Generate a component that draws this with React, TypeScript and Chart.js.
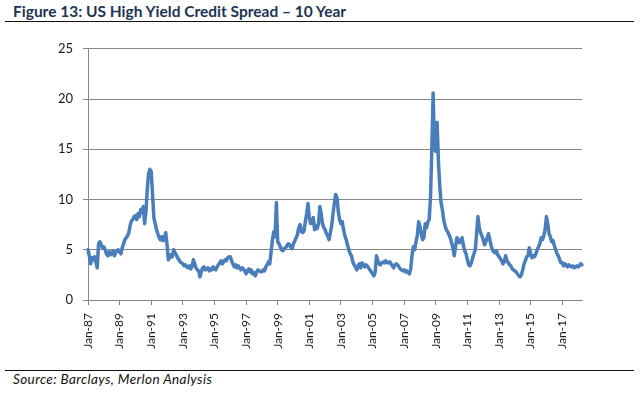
import React, { useEffect, useRef } from 'react';
import { Chart, registerables } from 'chart.js';

Chart.register(...registerables);

const TITLE = 'Figure 13: US High Yield Credit Spread – 10 Year';
const SOURCE = 'Source: Barclays, Merlon Analysis';

const monthNames = ['Jan', 'Feb', 'Mar', 'Apr', 'May', 'Jun', 'Jul', 'Aug', 'Sep', 'Oct', 'Nov', 'Dec'];
const years = [
  1987, 1988, 1989, 1990, 1991, 1992, 1993, 1994, 1995, 1996, 1997, 1998, 1999, 2000, 2001, 2002,
  2003, 2004, 2005, 2006, 2007, 2008, 2009, 2010, 2011, 2012, 2013, 2014, 2015, 2016, 2017, 2018,
];

// Monthly spread (%)
const s1987 = [5.0, 4.4, 3.6, 4.2, 4.0, 4.3, 3.8, 3.2, 5.6, 5.8, 5.5, 5.2];
const s1988 = [5.3, 5.0, 4.6, 4.4, 4.8, 4.5, 4.7, 4.9, 4.4, 4.7, 4.9, 5.0];
const s1989 = [4.8, 4.6, 5.2, 5.6, 6.0, 6.2, 6.4, 6.7, 7.4, 7.9, 8.0, 8.3];
const s1990 = [8.4, 8.0, 8.6, 8.3, 9.0, 8.7, 9.3, 7.6, 8.8, 11.0, 12.6, 13.0];
const s1991 = [12.8, 10.5, 8.2, 7.6, 7.0, 6.6, 6.2, 6.0, 6.3, 5.9, 6.2, 6.7];
const s1992 = [5.5, 4.0, 4.2, 4.5, 4.3, 5.0, 4.7, 4.5, 4.2, 4.0, 3.8, 3.7];
const s1993 = [3.6, 3.4, 3.5, 3.3, 3.2, 3.4, 3.1, 3.3, 4.0, 3.6, 3.2, 3.0];
const s1994 = [2.9, 2.3, 2.8, 3.2, 3.3, 3.0, 3.1, 3.2, 2.9, 3.1, 3.0, 3.3];
const s1995 = [3.1, 3.0, 3.3, 3.5, 3.7, 3.9, 3.6, 3.8, 4.0, 3.9, 4.2, 4.3];
const s1996 = [4.3, 3.9, 3.6, 3.3, 3.5, 3.2, 3.4, 3.2, 3.0, 3.2, 3.1, 2.9];
const s1997 = [2.6, 2.9, 3.1, 2.8, 3.0, 2.6, 2.7, 2.4, 2.8, 3.0, 2.9, 2.8];
const s1998 = [2.8, 3.0, 2.9, 3.3, 3.5, 3.8, 3.6, 4.8, 6.0, 6.8, 6.3, 9.7];
const s1999 = [5.8, 5.6, 5.3, 5.0, 4.9, 5.1, 5.2, 5.4, 5.6, 5.5, 5.2, 5.1];
const s2000 = [5.6, 5.9, 6.2, 6.5, 7.2, 7.5, 6.8, 6.7, 6.9, 7.8, 8.6, 9.6];
const s2001 = [8.2, 7.6, 7.9, 8.2, 7.0, 7.4, 7.1, 7.6, 9.3, 8.6, 7.6, 7.2];
const s2002 = [7.0, 6.6, 6.4, 6.0, 6.7, 7.4, 8.6, 9.6, 10.5, 10.2, 8.8, 8.0];
const s2003 = [7.6, 7.8, 7.0, 6.4, 6.0, 5.5, 5.0, 4.6, 4.4, 3.8, 3.5, 3.3];
const s2004 = [3.0, 3.4, 3.6, 3.2, 3.7, 3.5, 3.3, 3.5, 3.4, 3.2, 3.0, 2.8];
const s2005 = [2.6, 2.4, 2.8, 4.4, 3.9, 3.6, 3.5, 3.7, 3.8, 3.7, 3.9, 3.7];
const s2006 = [3.7, 3.8, 3.6, 3.4, 3.2, 3.5, 3.6, 3.5, 3.3, 3.1, 3.0, 2.9];
const s2007 = [3.0, 2.8, 2.9, 2.7, 2.6, 3.1, 4.5, 5.3, 5.0, 5.8, 6.4, 7.8];
const s2008 = [7.3, 6.6, 6.0, 6.2, 7.6, 7.2, 7.8, 8.0, 10.2, 15.0, 20.6, 15.0];
const s2009 = [14.8, 17.7, 13.8, 11.4, 9.7, 9.0, 8.0, 7.4, 7.0, 6.8, 6.5, 6.2];
const s2010 = [5.7, 5.2, 4.4, 5.3, 6.2, 6.0, 5.7, 5.9, 6.2, 5.4, 4.9, 4.6];
const s2011 = [4.0, 3.5, 3.4, 3.7, 4.2, 4.6, 5.0, 6.6, 8.3, 7.2, 6.7, 6.4];
const s2012 = [6.0, 5.5, 5.8, 6.2, 6.6, 6.0, 5.4, 5.0, 4.8, 4.7, 4.9, 4.5];
const s2013 = [4.3, 4.1, 3.9, 3.6, 3.8, 4.4, 3.9, 3.7, 3.5, 3.4, 3.1, 3.0];
const s2014 = [2.9, 2.8, 2.6, 2.4, 2.3, 2.5, 3.0, 3.6, 3.9, 4.3, 4.4, 5.2];
const s2015 = [4.6, 4.2, 4.4, 4.3, 4.6, 5.0, 5.3, 5.6, 6.2, 6.0, 6.4, 7.0];
const s2016 = [8.3, 7.6, 6.6, 6.3, 5.8, 5.9, 5.4, 5.0, 4.6, 4.4, 4.0, 3.7];
const s2017 = [3.7, 3.4, 3.6, 3.5, 3.3, 3.5, 3.4, 3.3, 3.4, 3.2, 3.3, 3.4];
const s2018 = [3.3, 3.4, 3.6, 3.5];

const spreadsByYear = [
  s1987, s1988, s1989, s1990, s1991, s1992, s1993, s1994, s1995, s1996, s1997, s1998, s1999, s2000, s2001, s2002,
  s2003, s2004, s2005, s2006, s2007, s2008, s2009, s2010, s2011, s2012, s2013, s2014, s2015, s2016, s2017, s2018,
];

const xTickLabels = [
  'Jan-87', 'Jan-89', 'Jan-91', 'Jan-93', 'Jan-95', 'Jan-97', 'Jan-99', 'Jan-01',
  'Jan-03', 'Jan-05', 'Jan-07', 'Jan-09', 'Jan-11', 'Jan-13', 'Jan-15', 'Jan-17',
];
const yMin = 0;
const yMax = 25;
const yStep = 5;

const labels: string[] = [];
const values: number[] = [];
years.forEach((yr, i) => {
  spreadsByYear[i].forEach((v, m) => {
    labels.push(`${monthNames[m]}-${String(yr % 100).padStart(2, '0')}`);
    values.push(v);
  });
});

const FONT = 'Lato, "Noto Sans", sans-serif';
const GRID = '#878787';

export default function App() {
  const ref = useRef<HTMLCanvasElement>(null);

  useEffect(() => {
    const canvas = ref.current;
    if (!canvas) return;
    const chart = new Chart(canvas, {
      type: 'line',
      data: {
        labels,
        datasets: [
          {
            data: values,
            borderColor: '#4A7EBB',
            borderWidth: 3.5,
            pointRadius: 0,
            tension: 0,
            borderJoinStyle: 'round',
            borderCapStyle: 'round',
            fill: false,
          },
        ],
      },
      options: {
        responsive: false,
        animation: false,
        devicePixelRatio: 1,
        layout: { padding: { top: 8, right: 62, left: 0, bottom: 0 } },
        plugins: { legend: { display: false }, tooltip: { enabled: false } },
        scales: {
          x: {
            type: 'category',
            grid: {
              display: true,
              drawOnChartArea: false,
              drawTicks: true,
              tickLength: 5,
              color: GRID,
            },
            border: { display: true, color: GRID, width: 1 },
            ticks: {
              autoSkip: false,
              maxRotation: 90,
              minRotation: 90,
              padding: 8,
              color: '#1a1a1a',
              font: { family: FONT, size: 12 },
            },
            afterBuildTicks: (scale: any) => {
              scale.ticks = scale.ticks.filter((t: any) => xTickLabels.includes(labels[t.value]));
            },
            afterFit: (scale: any) => {
              scale.height = 60;
            },
          },
          y: {
            min: yMin,
            max: yMax,
            ticks: {
              stepSize: yStep,
              padding: 10,
              color: '#1a1a1a',
              font: { family: FONT, size: 13 },
            },
            grid: { color: GRID, lineWidth: 1, tickLength: 5 },
            border: { display: true, color: GRID, width: 1 },
            afterFit: (scale: any) => {
              scale.width = 88;
            },
          },
        },
      },
    });
    return () => chart.destroy();
  }, []);

  return (
    <div
      style={{
        position: 'absolute',
        left: 0,
        top: 0,
        width: 644,
        height: 398,
        background: '#ffffff',
        fontFamily: FONT,
        overflow: 'hidden',
      }}
    >
      <div
        style={{
          position: 'absolute',
          left: 13,
          top: 0.5,
          fontSize: 15.5,
          fontWeight: 700,
          lineHeight: '20px',
          color: '#1d3454',
          whiteSpace: 'nowrap',
        }}
      >
        {TITLE}
      </div>
      <div style={{ position: 'absolute', left: 5, top: 20.5, width: 629, height: 1.5, background: '#111' }} />
      <canvas
        ref={ref}
        width={644}
        height={329}
        style={{ position: 'absolute', left: 0, top: 31, width: 644, height: 329 }}
      />
      <div style={{ position: 'absolute', left: 5, top: 369.5, width: 629, height: 1.5, background: '#111' }} />
      <div
        style={{
          position: 'absolute',
          left: 13,
          top: 371,
          fontSize: 13.5,
          letterSpacing: '0.4px',
          fontStyle: 'italic',
          lineHeight: '16px',
          color: '#111',
          whiteSpace: 'nowrap',
        }}
      >
        {SOURCE}
      </div>
    </div>
  );
}
